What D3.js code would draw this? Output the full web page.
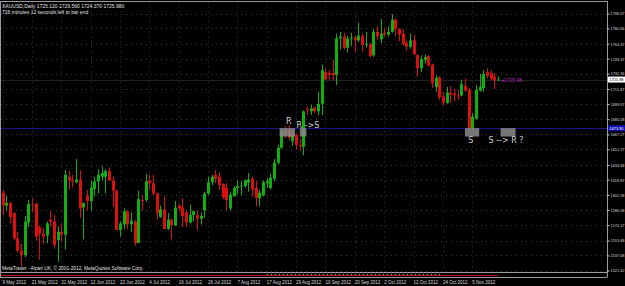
<!DOCTYPE html>
<html><head><meta charset="utf-8">
<script src="https://cdn.jsdelivr.net/npm/d3@7"></script>
<style>html,body{margin:0;padding:0;background:#000;overflow:hidden}</style>
</head><body>
<svg id="c" width="625" height="286"></svg>
<script>
const opens  = [1605,1591,1594,1583,1556,1543,1538,1573,1593,1593,1568,1561,1559,1576,1574,1554,1563,1560,1622,1618,1616,1619,1589,1602,1596,1609,1617,1622,1622,1628,1618,1607,1565,1571,1585,1571,1574,1551,1597,1597,1618,1615,1604,1579,1587,1566,1576,1570,1591,1589,1584,1573,1581,1581,1577,1586,1604,1616,1624,1622,1614,1610,1588,1601,1610,1612,1612,1616,1620,1610,1599,1602,1615,1610,1620,1637,1653,1671,1672,1660,1667,1656,1654,1694,1692,1696,1692,1700,1734,1733,1733,1731,1770,1772,1760,1770,1771,1768,1773,1763,1764,1752,1777,1769,1776,1774,1777,1790,1780,1775,1765,1761,1768,1752,1738,1747,1751,1742,1718,1728,1708,1701,1712,1711,1709,1709,1719,1715,1674,1684,1714,1717,1734,1733,1729,1725.12];
const highs  = [1608,1602,1595,1584,1563,1550,1580,1597,1599,1594,1570,1567,1574,1585,1581,1569,1572,1629,1628,1624,1641,1629,1594,1608,1618,1622,1630,1633,1630,1632,1622,1608,1574,1588,1586,1584,1576,1607,1602,1625,1624,1624,1605,1591,1601,1583,1577,1596,1593,1599,1586,1592,1586,1586,1584,1606,1622,1624,1629,1627,1615,1615,1606,1612,1618,1617,1619,1626,1622,1617,1608,1618,1620,1625,1641,1656,1674,1676,1677,1668,1668,1663,1693,1697,1699,1697,1713,1742,1738,1736,1747,1775,1777,1776,1773,1776,1773,1787,1775,1777,1765,1780,1783,1791,1781,1783,1796,1792,1781,1780,1768,1775,1774,1753,1752,1753,1752,1743,1730,1730,1713,1718,1719,1716,1715,1726,1727,1717,1690,1720,1732,1736,1738,1736,1733,1729.56];
const lows   = [1581,1585,1572,1554,1541,1527,1536,1568,1584,1554,1533,1550,1551,1569,1545,1531,1552,1544,1608,1611,1615,1578,1555,1586,1586,1601,1604,1618,1604,1617,1590,1565,1558,1566,1566,1563,1548,1551,1586,1595,1608,1602,1576,1578,1566,1565,1555,1569,1585,1568,1568,1572,1574,1565,1571,1578,1602,1613,1615,1608,1598,1586,1586,1601,1603,1602,1610,1606,1601,1590,1590,1601,1610,1608,1617,1635,1652,1663,1661,1655,1651,1650,1645,1688,1688,1690,1688,1688,1726,1726,1725,1720,1758,1758,1755,1762,1755,1766,1756,1760,1750,1750,1768,1765,1772,1772,1776,1773,1767,1763,1757,1759,1752,1729,1734,1743,1740,1717,1713,1704,1698,1700,1701,1703,1704,1708,1713,1672,1672,1683,1713,1713,1727,1725,1716,1724.37];
const closes = [1591,1594,1579,1556,1543,1538,1574,1593,1592,1558,1561,1558,1572,1574,1549,1563,1560,1624,1618,1617,1619,1588,1594,1596,1610,1617,1624,1626,1628,1618,1607,1565,1572,1585,1571,1575,1551,1598,1596,1617,1615,1604,1583,1587,1566,1576,1570,1589,1588,1580,1573,1581,1585,1577,1580,1604,1616,1622,1620,1613,1600,1597,1603,1610,1612,1612.5,1618,1619,1608,1599,1605,1616,1617,1621,1637,1653,1671,1667,1664,1667,1656,1655,1692,1693,1695,1692,1700,1736,1726,1731,1731,1770,1772,1760,1770,1771,1768,1773,1763,1764,1751,1777,1772,1775,1774,1777,1790,1780,1774,1764,1761,1768,1753,1738,1748,1750,1741,1722,1728,1707,1701,1712,1710,1709,1708,1721,1714,1674,1686,1715,1718,1732,1730,1727,1725,1725.98];
const dateLabels = ["9 May 2012","21 May 2012","31 May 2012","12 Jun 2012","22 Jun 2012","4 Jul 2012","16 Jul 2012","26 Jul 2012","7 Aug 2012","17 Aug 2012","29 Aug 2012","10 Sep 2012","20 Sep 2012","2 Oct 2012","12 Oct 2012","24 Oct 2012","5 Nov 2012"];
const dateLabelBars = [0,8,16,24,32,40,48,56,64,72,80,88,96,104,112,120,128];
const priceTicks = [1796.67,1780.66,1764.37,1748.37,1732.36,1715.87,1699.67,1683.58,1667.27,1651.27,1634.68,1618.87,1602.58,1586.58,1570.17,1553.68,1537.68,1521.62];
const bidPrice = 1725.98;
const levelPrice = 1673.9;
const boxes = [{b0:75.5,b1:79.7,p0:1674,p1:1665,label:"R",lb:78},{b0:81,b1:82.8,p0:1674,p1:1665,label:"R ->S",lb:83.2},{b0:126,b1:129.9,p0:1674,p1:1665,label:"S",lb:127.6},{b0:135.7,b1:139.8,p0:1674,p1:1665,label:"S --> R ?",lb:137.2}];

const svg = d3.select("#c");
const W=625,H=286, plotR=607, plotT=1.5, plotB=272.5;
const n = opens.length;
const x = d3.scaleLinear().domain([0,135]).range([2.5, 2.5+135*3.67]);
const y = d3.scaleLinear().domain([1521.62,1796.67]).range([270.5,13.5]);
const font = "Liberation Sans, Arial, sans-serif";

svg.append("rect").attr("width",W).attr("height",H).attr("fill","#000");
const g = svg.append("g");
// grid
g.selectAll(".hg").data(priceTicks).join("line")
  .attr("x1",1).attr("x2",plotR).attr("y1",d=>Math.round(y(d))+0.5).attr("y2",d=>Math.round(y(d))+0.5)
  .attr("stroke","#3a3a3a").attr("stroke-width",1).attr("stroke-dasharray","1,4");
g.selectAll(".vg").data(dateLabelBars).join("line")
  .attr("x1",d=>Math.round(x(d))+0.5).attr("x2",d=>Math.round(x(d))+0.5).attr("y1",plotT).attr("y2",plotB)
  .attr("stroke","#3a3a3a").attr("stroke-width",1).attr("stroke-dasharray","1,4");

// blue level line
g.append("line").attr("x1",1).attr("x2",plotR).attr("y1",Math.round(y(levelPrice))+0.5).attr("y2",Math.round(y(levelPrice))+0.5)
  .attr("stroke","#161688").attr("stroke-width",1);
// bid line
g.append("line").attr("x1",1).attr("x2",plotR).attr("y1",Math.round(y(bidPrice))+0.5).attr("y2",Math.round(y(bidPrice))+0.5)
  .attr("stroke","#222").attr("stroke-width",1);

const idx = d3.range(n);
const up = i => closes[i] >= opens[i];
g.selectAll(".wick").data(idx).join("line")
  .attr("x1",i=>Math.round(x(i))+0.5).attr("x2",i=>Math.round(x(i))+0.5)
  .attr("y1",i=>y(highs[i])).attr("y2",i=>y(lows[i]))
  .attr("stroke",i=>up(i)?"#10b010":"#d81010").attr("stroke-width",1);
g.selectAll(".body").data(idx).join("rect")
  .attr("x",i=>Math.round(x(i))-1).attr("width",3)
  .attr("y",i=>y(Math.max(opens[i],closes[i])))
  .attr("height",i=>Math.max(1,Math.abs(y(opens[i])-y(closes[i]))))
  .attr("fill",i=>up(i)?"#10b010":"#d81010");

// boxes
boxes.forEach(b=>{
  g.append("rect").attr("x",x(b.b0)).attr("width",x(b.b1)-x(b.b0))
   .attr("y",y(b.p0)).attr("height",y(b.p1)-y(b.p0)).attr("fill","#8a8a8a").attr("opacity",0.85);
});
g.selectAll(".bl").data(boxes).join("text")
  .attr("x",b=>x(b.lb)).attr("y",(b,i)=> i<2 ? (i==0?124:127.5) : 143)
  .attr("text-anchor","middle").attr("fill","#d0d0d0").attr("font-family","DejaVu Sans, sans-serif").attr("font-size",8)
  .text(b=>b.label);

// bid label near last bar
g.append("text").attr("x",x(135)+3).attr("y",y(bidPrice)+2.5).attr("fill","#b020b0")
  .attr("font-family",font).attr("font-size",5).text("\u25C2"+bidPrice.toFixed(2));

// frame
svg.append("line").attr("x1",0).attr("x2",plotR).attr("y1",1.5).attr("y2",1.5).attr("stroke","#9a9a9a");
svg.append("line").attr("x1",0.5).attr("x2",0.5).attr("y1",1).attr("y2",277).attr("stroke","#9a9a9a");
svg.append("line").attr("x1",plotR+0.5).attr("x2",plotR+0.5).attr("y1",1).attr("y2",277.5).attr("stroke","#9a9a9a");
svg.append("line").attr("x1",0).attr("x2",plotR).attr("y1",272.5).attr("y2",272.5).attr("stroke","#9a9a9a");
svg.append("line").attr("x1",0).attr("x2",plotR).attr("y1",277.5).attr("y2",277.5).attr("stroke","#9a9a9a");
// subwindow indicator
svg.append("line").attr("x1",1).attr("x2",x(135)).attr("y1",275.5).attr("y2",275.5).attr("stroke","#c01010");
svg.append("line").attr("x1",x(72)).attr("x2",x(120)).attr("y1",274.5).attr("y2",274.5).attr("stroke","#b0b0b0").attr("stroke-dasharray","1,3");

// right axis
const ax = d3.axisRight(y).tickValues(priceTicks).tickSize(2).tickFormat(d3.format(".2f"));
const axg = svg.append("g").attr("transform",`translate(${plotR+0.5},0)`).call(ax);
axg.select(".domain").remove();
axg.selectAll("line").attr("stroke","#c8c8c8");
axg.selectAll("text").attr("fill","#d8d8d8").attr("font-family",font).attr("font-size",4.3).attr("x",3).attr("textLength",14).attr("lengthAdjust","spacingAndGlyphs");
// bid & level boxes
svg.append("rect").attr("x",plotR+1).attr("y",y(bidPrice)-3).attr("width",18).attr("height",6).attr("fill","#fff");
svg.append("text").attr("x",plotR+2.5).attr("y",y(bidPrice)+1.8).attr("fill","#000").attr("font-family",font).attr("font-size",4.3).attr("textLength",14).attr("lengthAdjust","spacingAndGlyphs").text(bidPrice.toFixed(2));
svg.append("rect").attr("x",plotR+1).attr("y",y(levelPrice)-3).attr("width",18).attr("height",6).attr("fill","#1010b0");
svg.append("text").attr("x",plotR+2.5).attr("y",y(levelPrice)+1.8).attr("fill","#fff").attr("font-family",font).attr("font-size",4.3).attr("textLength",14).attr("lengthAdjust","spacingAndGlyphs").text(levelPrice.toFixed(2));

// date labels
svg.selectAll(".dl").data(dateLabelBars).join("text")
  .attr("x",(d)=>x(d)).attr("y",284).attr("fill","#d8d8d8").attr("font-family",font).attr("font-size",4.5)
  .text((d,i)=>dateLabels[i]);

// header
svg.append("text").attr("x",2).attr("y",7.5).attr("fill","#e0e0e0").attr("font-family",font).attr("font-size",5)
  .text("XAUUSD,Daily  1725.120 1729.560 1724.370 1725.980");
svg.append("text").attr("x",2).attr("y",13.5).attr("fill","#e0e0e0").attr("font-family",font).attr("font-size",5)
  .text("716 minutes 12 seconds left to bar end");
svg.append("text").attr("x",2).attr("y",269.5).attr("fill","#e0e0e0").attr("font-family",font).attr("font-size",4.8)
  .text("MetaTrader - Alpari UK, \u00A9 2001-2012, MetaQuotes Software Corp.");
</script>
</body></html>
